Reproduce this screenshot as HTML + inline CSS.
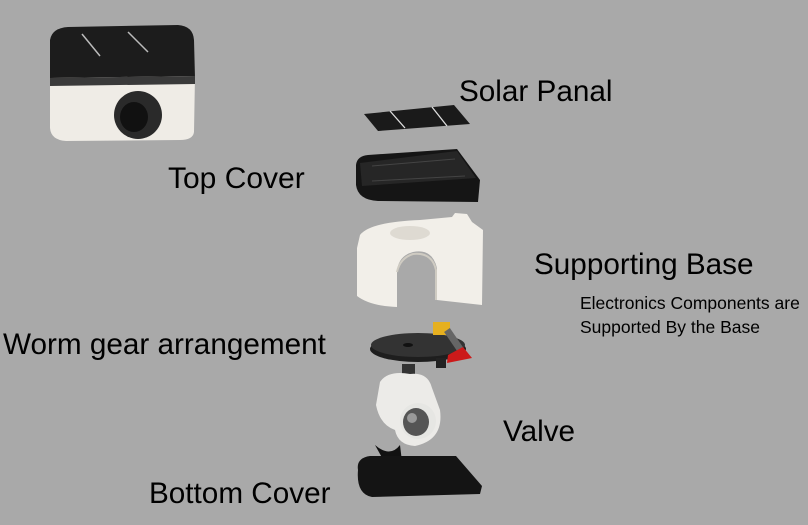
<!DOCTYPE html>
<html><head><style>
html,body{margin:0;padding:0;background:#a9a9a9;}
svg{display:block}
text{font-family:"Liberation Sans",sans-serif;fill:#000}
</style></head><body>
<svg width="808" height="525" viewBox="0 0 808 525" xmlns="http://www.w3.org/2000/svg">
<rect width="808" height="525" fill="#a9a9a9"/>
<!-- top-left assembled product -->
<path d="M50 40 Q52 28 68 27 L178 25 Q193 26 194 40 L195 78 L50 80 Z" fill="#1c1c1c"/>
<path d="M82 34 L100 56 M128 32 L148 52" stroke="#bbb" stroke-width="1.5"/>
<path d="M50 78 L195 76 L194 132 Q193 140 180 140 L66 141 Q51 140 50 128 Z" fill="#efece6"/>
<path d="M50 78 L195 76 L195 84 L50 86 Z" fill="#3a3a3a"/>
<ellipse cx="138" cy="115" rx="24" ry="24" fill="#2a2a2a"/>
<ellipse cx="134" cy="117" rx="14" ry="15" fill="#111"/>
<!-- solar panel -->
<path d="M364 114 L454 105 L470 124 L378 131 Z" fill="#1a1a1a"/>
<path d="M390 111 L405 128 M432 107 L447 126" stroke="#ddd" stroke-width="1.3"/>
<!-- top cover -->
<path d="M368 155 Q357 156 356 165 L356 185 Q358 200 378 201 L478 202 L480 180 L457 149 Z" fill="#151515"/>
<path d="M360 163 L457 151 L476 178 L362 186 Z" fill="#262626"/>
<path d="M372 166 L455 159 M372 181 L465 176" stroke="#444" stroke-width="1"/>
<!-- supporting base -->
<path d="M360 235 Q370 222 420 220 L452 217 L455 213 L467 214 L472 222 L483 230 L482 305 L437 300 L437 268 Q432 248 413 252 Q398 256 397 272 L397 307 Q370 306 357 296 L357 248 Z" fill="#f2efe9"/>
<ellipse cx="410" cy="233" rx="20" ry="7" fill="#dedad2"/>
<path d="M397 272 Q400 258 413 254 Q432 252 436 270 L436 300" fill="none" stroke="#cfcbc2" stroke-width="2"/>
<!-- gear -->
<ellipse cx="418" cy="349" rx="48" ry="13" fill="#1e1e1e"/>
<ellipse cx="418" cy="345" rx="47" ry="12" fill="#333"/>
<ellipse cx="408" cy="345" rx="5" ry="2" fill="#111"/>
<rect x="433" y="322" width="17" height="13" fill="#e6b020"/>
<path d="M447 330 L462 352" stroke="#666" stroke-width="7"/>
<path d="M448 355 L463 347 L472 358 L447 363 Z" fill="#cc1a1a"/>
<rect x="436" y="358" width="10" height="10" fill="#222"/>
<!-- valve -->
<rect x="402" y="364" width="13" height="22" fill="#333"/>
<path d="M380 382 Q388 370 410 374 Q428 372 432 388 L440 410 Q444 440 415 446 Q398 445 395 430 Q380 425 376 405 Z" fill="#ecebe8"/>
<ellipse cx="418" cy="421" rx="18" ry="18" fill="#e6e6e3"/>
<ellipse cx="416" cy="422" rx="13" ry="14" fill="#555"/>
<ellipse cx="412" cy="418" rx="5" ry="5" fill="#999"/>
<!-- bottom cover -->
<path d="M375 445 Q390 458 400 445 L403 470 L390 472 Z" fill="#111"/>
<path d="M358 470 Q356 458 370 456 L456 456 L482 486 L480 494 L372 497 Q356 494 358 470 Z" fill="#141414"/>
<!-- labels -->
<text x="459" y="101" font-size="29.7">Solar Panal</text>
<text x="168" y="188" font-size="30">Top Cover</text>
<text x="534" y="274" font-size="29.7">Supporting Base</text>
<text x="580" y="309" font-size="17.5">Electronics Components are</text>
<text x="580" y="333" font-size="17.5">Supported By the Base</text>
<text x="3" y="354" font-size="29.7">Worm gear arrangement</text>
<text x="503" y="441" font-size="29.7">Valve</text>
<text x="149" y="503" font-size="29.7">Bottom Cover</text>
</svg>
</body></html>
